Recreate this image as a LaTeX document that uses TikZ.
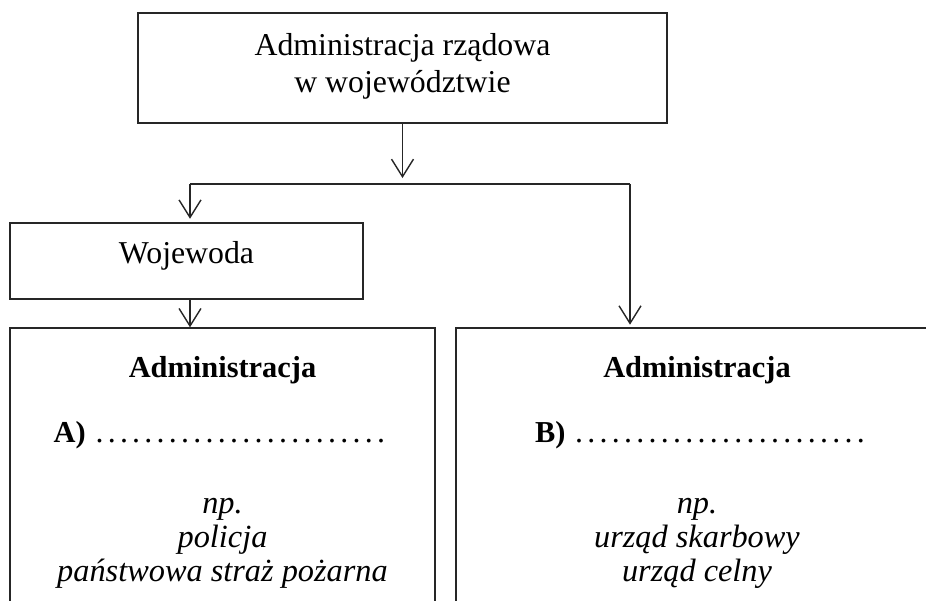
\documentclass[tikz,border=0pt]{standalone}
\usepackage{fontspec}
\setmainfont{Liberation Serif}
\usepackage{tikz}
\usetikzlibrary{arrows.meta,positioning,calc}

\newcommand{\kropki}{\hbox to 5.88cm{\leaders\hbox to 0.245cm{\hss.\hss}\hfill}}

\begin{document}
\begin{tikzpicture}[
            x=0.02cm, y=-0.02cm,
            every node/.style={font=\fontsize{18.1}{21}\selectfont},
            box/.style={rectangle, draw=black!85, line width=0.8pt, align=center, inner sep=0pt},
            linia/.style={draw=black!85, line width=0.8pt},
            strzalka/.style={linia, -{Straight Barb[length=10pt,width=12.5pt]}},
            naglowek/.style={anchor=base, font=\fontsize{17.3}{21}\selectfont\bfseries},
            przyklad/.style={anchor=base, font=\fontsize{18.4}{20}\selectfont\itshape}
        ]
            \useasboundingbox (0,0) rectangle (926,601);
            \clip (0,0) rectangle (926,601);

            % boxes
            \node[box, minimum width=10.58cm, minimum height=2.2cm, text depth=5.6pt] (top) at (402.5,68)
                {Administracja rządowa\\w województwie};
            \node[box, minimum width=7.06cm, minimum height=1.52cm, text depth=9.4pt] (woj) at (186.5,261) {Wojewoda};
            \node[box, minimum width=8.5cm, minimum height=6.24cm] (boxA) at (222.5,484) {};
            \node[box, minimum width=9.64cm, minimum height=6.24cm] (boxB) at (697,484) {};

            % connectors
            \coordinate (rozw) at (402.5,184);
            \coordinate (lewy) at (190,184);
            \coordinate (prawy) at (630,184);
            \draw[strzalka, shorten >=3.4pt] (top.south) -- (rozw);
            \draw[linia] (lewy) -- (prawy);
            \draw[strzalka, shorten >=2pt] (lewy) -- (lewy |- woj.north);
            \draw[strzalka, shorten >=1.5pt] (prawy) -- (prawy |- boxB.north);
            \draw[strzalka] (lewy |- woj.south) -- (lewy |- boxA.north);

            % texts, left
            \node[naglowek] (admA) at (222.5,377) {Administracja};
            \node[naglowek] (punktA) at (220.5,442) {A) \mdseries\fontsize{18.1}{21}\selectfont\kropki};
            \foreach \tekst [count=\i] in {np., policja, państwowa straż pożarna}
                \node[przyklad] (pA-\i) at (222.5,{513+34*(\i-1)}) {\tekst};

            % texts, right
            \node[naglowek] (admB) at (697,377) {Administracja};
            \node[naglowek] (punktB) at (701,442) {B) \mdseries\fontsize{18.1}{21}\selectfont\kropki};
            \foreach \tekst [count=\i] in {np., urząd skarbowy, urząd celny}
                \node[przyklad] (pB-\i) at (697,{513+34*(\i-1)}) {\tekst};
        \end{tikzpicture}
\end{document}
